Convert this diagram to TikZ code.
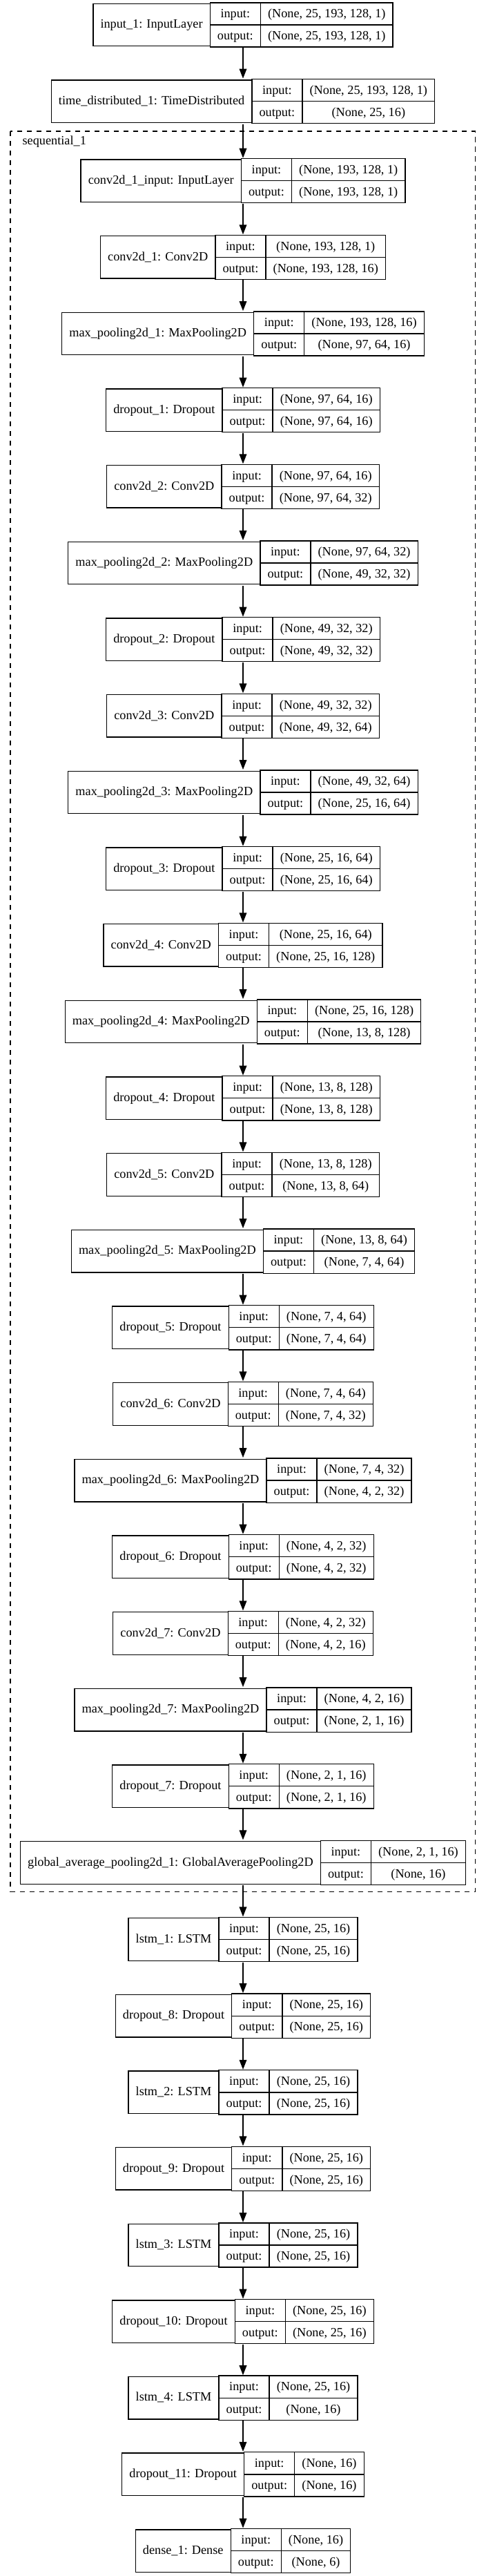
\documentclass[tikz,border=0pt]{standalone}
\usepackage{fontspec}
\setmainfont{Liberation Serif}
\usepackage{tikz}
\usetikzlibrary{arrows.meta,shapes.multipart}

\newcommand{\cellstrut}{\rule[-7.2bp]{0pt}{23.06bp}}
\newcommand{\layer}[5]{%
  \matrix (#1) at (264bp,-#2bp) [layer] {
    \node[lname] {#3}; \&
    \node[lsplit] {\cellstrut input:\nodepart{two}\cellstrut output:}; \&
    \node[lsplit] {\cellstrut #4\nodepart{two}\cellstrut #5}; \\
  };}

\begin{document}
\begin{tikzpicture}[font=\fontsize{13.75}{16.5}\selectfont,
  lname/.style={draw, line width=1bp, anchor=center, inner xsep=8bp, inner ysep=0pt, minimum height=46.12bp, text height=10.5bp, text depth=3.5bp},
  lsplit/.style={draw, line width=1bp, anchor=center, rectangle split, rectangle split parts=2, inner xsep=8bp, inner ysep=0pt},
  layer/.style={inner sep=0pt, column sep=-1bp, ampersand replacement=\&},
  link/.style={-{Triangle[length=10.5bp,width=8bp]}, line width=1bp},
  cluster/.style={draw, line width=1bp, dash pattern=on 5.5bp off 5bp}]
\useasboundingbox[fill=white] (0,0) rectangle (528bp,-2796.75bp);
\layer{input1}{27.0}{input\_1: InputLayer}{(None, 25, 193, 128, 1)}{(None, 25, 193, 128, 1)}
\layer{timedist1}{110.0}{time\_distributed\_1: TimeDistributed}{(None, 25, 193, 128, 1)}{(None, 25, 16)}
% sequential_1 cluster
\draw[cluster] (11.25bp,-142.5bp) rectangle (516.2bp,-2053.7bp);
\node (seqlabel) at (20.9bp,-157.1bp)[anchor=base west] {sequential\_1};
\layer{conv1in}{196.3}{conv2d\_1\_input: InputLayer}{(None, 193, 128, 1)}{(None, 193, 128, 1)}
\layer{conv1}{279.3}{conv2d\_1: Conv2D}{(None, 193, 128, 1)}{(None, 193, 128, 16)}
\layer{pool1}{362.3}{max\_pooling2d\_1: MaxPooling2D}{(None, 193, 128, 16)}{(None, 97, 64, 16)}
\layer{drop1}{445.3}{dropout\_1: Dropout}{(None, 97, 64, 16)}{(None, 97, 64, 16)}
\layer{conv2}{528.3}{conv2d\_2: Conv2D}{(None, 97, 64, 16)}{(None, 97, 64, 32)}
\layer{pool2}{611.3}{max\_pooling2d\_2: MaxPooling2D}{(None, 97, 64, 32)}{(None, 49, 32, 32)}
\layer{drop2}{694.3}{dropout\_2: Dropout}{(None, 49, 32, 32)}{(None, 49, 32, 32)}
\layer{conv3}{777.3}{conv2d\_3: Conv2D}{(None, 49, 32, 32)}{(None, 49, 32, 64)}
\layer{pool3}{860.3}{max\_pooling2d\_3: MaxPooling2D}{(None, 49, 32, 64)}{(None, 25, 16, 64)}
\layer{drop3}{943.3}{dropout\_3: Dropout}{(None, 25, 16, 64)}{(None, 25, 16, 64)}
\layer{conv4}{1026.3}{conv2d\_4: Conv2D}{(None, 25, 16, 64)}{(None, 25, 16, 128)}
\layer{pool4}{1109.3}{max\_pooling2d\_4: MaxPooling2D}{(None, 25, 16, 128)}{(None, 13, 8, 128)}
\layer{drop4}{1192.3}{dropout\_4: Dropout}{(None, 13, 8, 128)}{(None, 13, 8, 128)}
\layer{conv5}{1275.3}{conv2d\_5: Conv2D}{(None, 13, 8, 128)}{(None, 13, 8, 64)}
\layer{pool5}{1358.3}{max\_pooling2d\_5: MaxPooling2D}{(None, 13, 8, 64)}{(None, 7, 4, 64)}
\layer{drop5}{1441.3}{dropout\_5: Dropout}{(None, 7, 4, 64)}{(None, 7, 4, 64)}
\layer{conv6}{1524.3}{conv2d\_6: Conv2D}{(None, 7, 4, 64)}{(None, 7, 4, 32)}
\layer{pool6}{1607.3}{max\_pooling2d\_6: MaxPooling2D}{(None, 7, 4, 32)}{(None, 4, 2, 32)}
\layer{drop6}{1690.3}{dropout\_6: Dropout}{(None, 4, 2, 32)}{(None, 4, 2, 32)}
\layer{conv7}{1773.3}{conv2d\_7: Conv2D}{(None, 4, 2, 32)}{(None, 4, 2, 16)}
\layer{pool7}{1856.3}{max\_pooling2d\_7: MaxPooling2D}{(None, 4, 2, 16)}{(None, 2, 1, 16)}
\layer{drop7}{1939.3}{dropout\_7: Dropout}{(None, 2, 1, 16)}{(None, 2, 1, 16)}
\layer{gap1}{2022.3}{global\_average\_pooling2d\_1: GlobalAveragePooling2D}{(None, 2, 1, 16)}{(None, 16)}
% after the cluster
\layer{lstm1}{2105.6}{lstm\_1: LSTM}{(None, 25, 16)}{(None, 25, 16)}
\layer{drop8}{2188.6}{dropout\_8: Dropout}{(None, 25, 16)}{(None, 25, 16)}
\layer{lstm2}{2271.6}{lstm\_2: LSTM}{(None, 25, 16)}{(None, 25, 16)}
\layer{drop9}{2354.5}{dropout\_9: Dropout}{(None, 25, 16)}{(None, 25, 16)}
\layer{lstm3}{2437.5}{lstm\_3: LSTM}{(None, 25, 16)}{(None, 25, 16)}
\layer{drop10}{2520.5}{dropout\_10: Dropout}{(None, 25, 16)}{(None, 25, 16)}
\layer{lstm4}{2603.4}{lstm\_4: LSTM}{(None, 25, 16)}{(None, 16)}
\layer{drop11}{2686.4}{dropout\_11: Dropout}{(None, 16)}{(None, 16)}
\layer{dense1}{2769.4}{dense\_1: Dense}{(None, 16)}{(None, 6)}
% connections
\draw [link] (input1) -- (timedist1);
\draw [link] (timedist1) -- (conv1in);
\draw [link] (conv1in) -- (conv1);
\draw [link] (conv1) -- (pool1);
\draw [link] (pool1) -- (drop1);
\draw [link] (drop1) -- (conv2);
\draw [link] (conv2) -- (pool2);
\draw [link] (pool2) -- (drop2);
\draw [link] (drop2) -- (conv3);
\draw [link] (conv3) -- (pool3);
\draw [link] (pool3) -- (drop3);
\draw [link] (drop3) -- (conv4);
\draw [link] (conv4) -- (pool4);
\draw [link] (pool4) -- (drop4);
\draw [link] (drop4) -- (conv5);
\draw [link] (conv5) -- (pool5);
\draw [link] (pool5) -- (drop5);
\draw [link] (drop5) -- (conv6);
\draw [link] (conv6) -- (pool6);
\draw [link] (pool6) -- (drop6);
\draw [link] (drop6) -- (conv7);
\draw [link] (conv7) -- (pool7);
\draw [link] (pool7) -- (drop7);
\draw [link] (drop7) -- (gap1);
\draw [link] (gap1) -- (lstm1);
\draw [link] (lstm1) -- (drop8);
\draw [link] (drop8) -- (lstm2);
\draw [link] (lstm2) -- (drop9);
\draw [link] (drop9) -- (lstm3);
\draw [link] (lstm3) -- (drop10);
\draw [link] (drop10) -- (lstm4);
\draw [link] (lstm4) -- (drop11);
\draw [link] (drop11) -- (dense1);
\end{tikzpicture}
\end{document}
